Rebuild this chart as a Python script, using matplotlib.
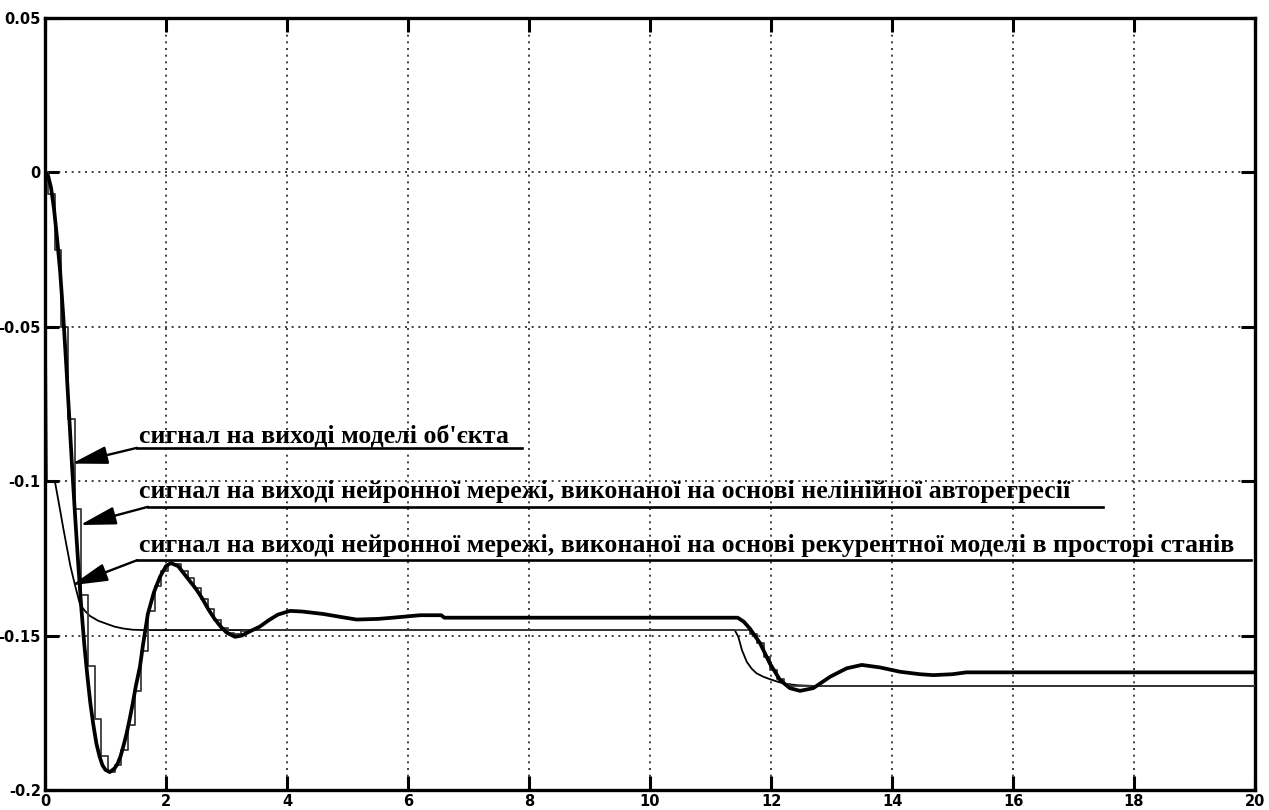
import matplotlib
matplotlib.use("Agg")
import matplotlib.pyplot as plt
import matplotlib.ticker as mtick

# -----------------------------
# Data
# -----------------------------
# thick smooth oscillating signal
t_thick = [0.00, 0.05, 0.10, 0.15, 0.20, 0.25, 0.30, 0.35, 0.40, 0.45,
           0.50, 0.55, 0.60, 0.65, 0.70, 0.75, 0.80, 0.85, 0.90, 0.95,
           1.00, 1.07, 1.15, 1.20, 1.25, 1.30, 1.35, 1.40, 1.45, 1.50,
           1.57, 1.62, 1.70, 1.80, 1.90, 2.00, 2.08, 2.20, 2.30, 2.40,
           2.50, 2.60, 2.70, 2.80, 2.90, 3.00, 3.14, 3.25, 3.40, 3.55,
           3.70, 3.85, 4.05, 4.25, 4.60, 4.90, 5.15, 5.50, 5.75, 6.20,
           6.55, 6.60, 11.45, 11.55, 11.65, 11.82, 11.98, 12.15, 12.31, 12.48,
           12.70, 12.98, 13.25, 13.50, 13.80, 14.13, 14.46, 14.68, 15.00, 15.23,
           20.00]
y_thick = [0.0000, -0.0010, -0.0050, -0.0120, -0.0215, -0.0320, -0.0460, -0.0620, -0.0790, -0.0960,
           -0.1120, -0.1270, -0.1410, -0.1530, -0.1630, -0.1720, -0.1790, -0.1850, -0.1890, -0.1920,
           -0.1935, -0.1942, -0.1930, -0.1915, -0.1890, -0.1855, -0.1816, -0.1770, -0.1720, -0.1665,
           -0.1600, -0.1530, -0.1430, -0.1360, -0.1310, -0.1275, -0.1265, -0.1275, -0.1300, -0.1325,
           -0.1350, -0.1380, -0.1415, -0.1445, -0.1470, -0.1490, -0.1504, -0.1500, -0.1485, -0.1471,
           -0.1450, -0.1432, -0.1420, -0.1422, -0.1430, -0.1440, -0.1448, -0.1446, -0.1442, -0.1434,
           -0.1434, -0.1442, -0.1442, -0.1455, -0.1477, -0.1525, -0.1590, -0.1644, -0.1670, -0.1679,
           -0.1670, -0.1633, -0.1606, -0.1595, -0.1603, -0.1617, -0.1625, -0.1628, -0.1625, -0.1619,
           -0.1619]

# thin first-order signal
t_thin = [0.00, 0.03, 0.165, 0.25, 0.30, 0.36, 0.42, 0.50, 0.58, 0.66,
          0.74, 0.88, 1.02, 1.15, 1.29, 1.45, 1.60, 11.40, 11.46, 11.52,
          11.60, 11.68, 11.76, 11.87, 11.98, 12.12, 12.26, 12.45, 12.70, 20.00]
y_thin = [0.0000, -0.1002, -0.1002, -0.1094, -0.1150, -0.1213, -0.1275, -0.1340, -0.1400, -0.1420,
          -0.1436, -0.1452, -0.1462, -0.1471, -0.1477, -0.1481, -0.1482, -0.1482, -0.1504, -0.1547,
          -0.1585, -0.1607, -0.1622, -0.1633, -0.1641, -0.1650, -0.1657, -0.1661, -0.1663, -0.1663]

# sampled (staircase) signal
t_step = [0.00, 0.05, 0.16, 0.27, 0.38, 0.49, 0.60, 0.71, 0.82, 0.93,
          1.04, 1.15, 1.26, 1.37, 1.48, 1.59, 1.70, 1.81, 1.92, 2.03,
          2.14, 2.25, 2.36, 2.47, 2.58, 2.69, 2.80, 2.91, 3.02, 3.13,
          3.24, 3.35, 11.55, 11.66, 11.77, 11.88, 11.99, 12.10, 12.21, 12.32,
          20.00]
y_step = [0.0000, -0.0070, -0.0250, -0.0500, -0.0800, -0.1090, -0.1370, -0.1600, -0.1770, -0.1890,
          -0.1942, -0.1920, -0.1870, -0.1790, -0.1680, -0.1550, -0.1420, -0.1340, -0.1290, -0.1268,
          -0.1268, -0.1290, -0.1315, -0.1345, -0.1380, -0.1415, -0.1450, -0.1475, -0.1490, -0.1495,
          -0.1485, -0.1482, -0.1482, -0.1495, -0.1525, -0.1570, -0.1610, -0.1640, -0.1658, -0.1663,
          -0.1663]

x_ticks = [0, 2, 4, 6, 8, 10, 12, 14, 16, 18, 20]
y_ticks = [0.05, 0.0, -0.05, -0.1, -0.15, -0.2]
y_tick_labels = ["0.05", "0", "-0.05", "-0.1", "-0.15", "-0.2"]

labels = [
    "сигнал на виході моделі об'єкта",
    "сигнал на виході нейронної мережі, виконаної на основі нелінійної авторегресії",
    "сигнал на виході нейронної мережі, виконаної на основі рекурентної моделі в просторі станів",
]

# -----------------------------
# Figure
# -----------------------------
plt.rcParams["axes.unicode_minus"] = False

fig = plt.figure(figsize=(12.69, 8.10), dpi=100)
ax = fig.add_axes([45 / 1269, 20 / 810, 1210 / 1269, 772 / 810])

ax.plot(t_thin, y_thin, color="black", lw=1.3, zorder=3)
ax.plot(t_step, y_step, color="#3a3a3a", lw=1.3, drawstyle="steps-post", zorder=3)
ax.plot(t_thick, y_thick, color="black", lw=2.7, solid_joinstyle="round", zorder=4)

ax.set_xlim(0, 20)
ax.set_ylim(-0.2, 0.05)
ax.set_xticks(x_ticks)
ax.set_yticks(y_ticks)
ax.yaxis.set_major_formatter(mtick.FixedFormatter(y_tick_labels))

ax.grid(True, color="#202020", lw=1.2, linestyle=(0, (1.2, 2.8)), zorder=1)

for side in ["left", "right", "top", "bottom"]:
    ax.spines[side].set_linewidth(2.4)
ax.tick_params(direction="in", length=10, width=2.2, top=True, right=True, pad=3)
for lab in ax.get_xticklabels() + ax.get_yticklabels():
    lab.set_family(["Liberation Sans Narrow", "DejaVu Sans"])
    lab.set_fontweight("bold")
    lab.set_fontsize(10.5)

# -----------------------------
# Annotations: text, underline, arrow to curve
# -----------------------------
text_xy = [(1.554, -0.0877), (1.554, -0.1055), (1.554, -0.1230)]
line_x = [(1.52, 7.88), (1.70, 17.48), (1.52, 19.93)]
line_y = [-0.0892, -0.1083, -0.1256]
tips = [(0.441, -0.0943), (0.578, -0.1142), (0.441, -0.1337)]

texts = []
for lab, (tx, ty) in zip(labels, text_xy):
    texts.append(ax.text(tx, ty, lab, family="Liberation Serif", fontweight="bold",
                         fontsize=18, ha="left", va="baseline", zorder=6))

for (x0, x1), ly, tip in zip(line_x, line_y, tips):
    ax.plot([x0, x1], [ly, ly], color="black", lw=1.9, zorder=6)
    ax.annotate("", xy=tip, xytext=(x0, ly),
                arrowprops=dict(arrowstyle="-|>,head_length=2.2,head_width=0.55",
                                color="black", lw=1.7, shrinkA=0, shrinkB=0,
                                mutation_scale=10),
                zorder=6)

# fit the longest label to its width in the reference
fig.canvas.draw()
r = fig.canvas.get_renderer()
w = texts[2].get_window_extent(r).width
size = 18 * 1094 / w
for t in texts:
    t.set_fontsize(size)

fig.savefig("out.png", dpi=100)
